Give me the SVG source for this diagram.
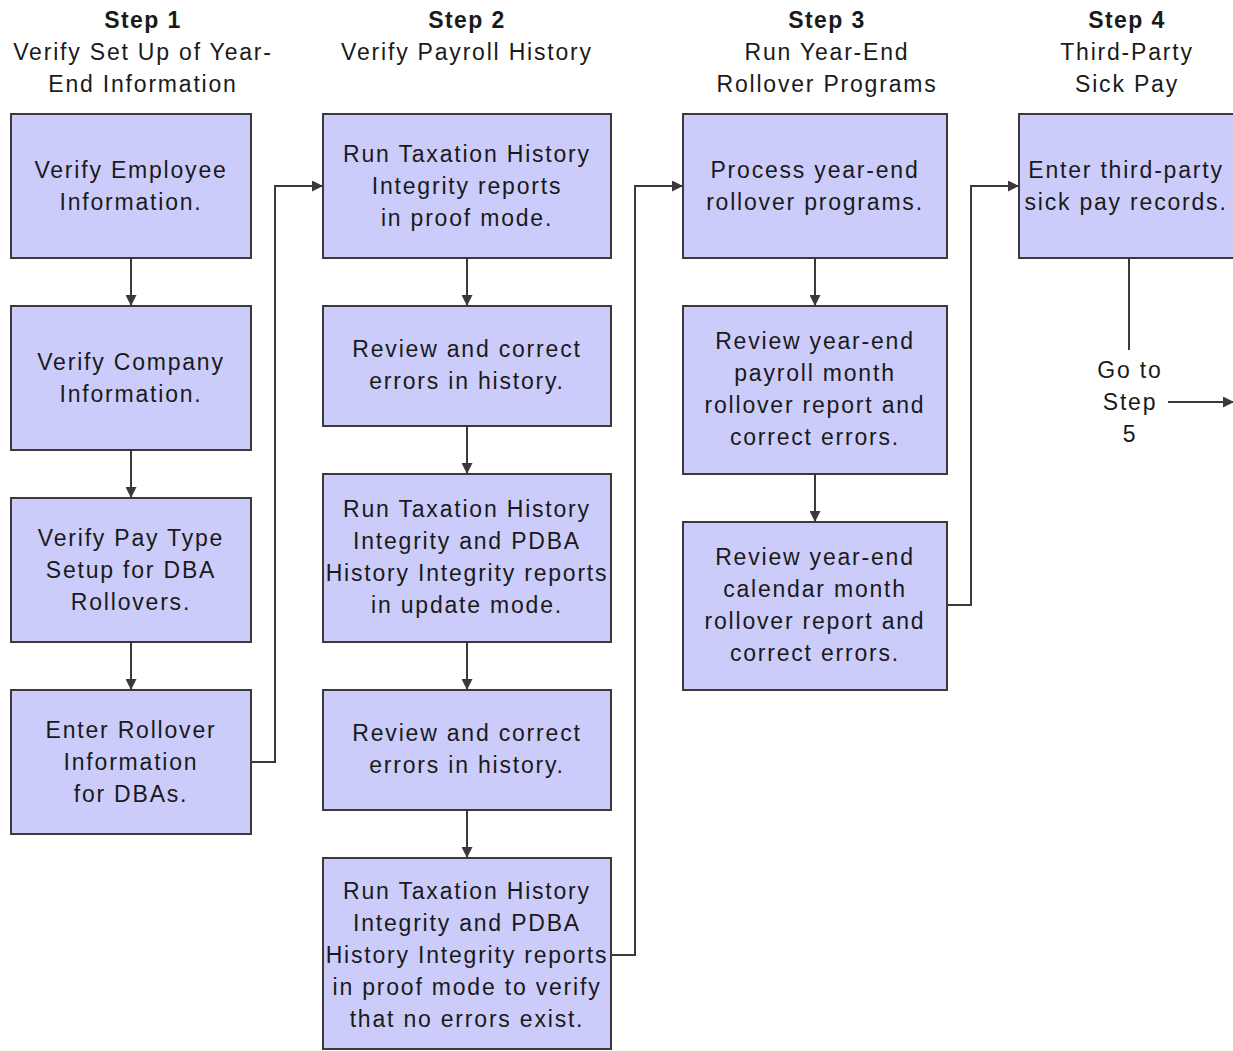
<svg xmlns="http://www.w3.org/2000/svg" width="1233" height="1051" viewBox="0 0 1233 1051">
<defs>
<style>
.box{fill:#ccccfb;stroke:#3a3a3a;stroke-width:2}
.t{font-family:"Liberation Sans",Arial,sans-serif;font-size:23px;letter-spacing:1.8px;fill:#1a1a1a;text-anchor:middle}
.h{font-weight:bold;letter-spacing:1.4px}
.c{fill:none;stroke:#3a3a3a;stroke-width:2}
</style>
<marker id="a" viewBox="0 0 10 10" refX="10" refY="5" markerWidth="12" markerHeight="11" markerUnits="userSpaceOnUse" orient="auto"><path d="M0,0L10,5L0,10z" fill="#3a3a3a"/></marker>
</defs>
<rect width="1233" height="1051" fill="#fff"/>
<g id="headers">
<text class="t h" x="143" y="28">Step 1</text>
<text class="t" x="143" y="60">Verify Set Up of Year-</text>
<text class="t" x="143" y="92">End Information</text>
<text class="t h" x="467" y="28">Step 2</text>
<text class="t" x="467" y="60">Verify Payroll History</text>
<text class="t h" x="827" y="28">Step 3</text>
<text class="t" x="827" y="60">Run Year-End</text>
<text class="t" x="827" y="92">Rollover Programs</text>
<text class="t h" x="1127" y="28">Step 4</text>
<text class="t" x="1127" y="60">Third-Party</text>
<text class="t" x="1127" y="92">Sick Pay</text>
</g>
<g id="connectors">
<path class="c" d="M131,258V306" marker-end="url(#a)"/>
<path class="c" d="M131,450V498" marker-end="url(#a)"/>
<path class="c" d="M131,642V690" marker-end="url(#a)"/>
<path class="c" d="M251,762H275V186H323" marker-end="url(#a)"/>
<path class="c" d="M467,258V306" marker-end="url(#a)"/>
<path class="c" d="M467,426V474" marker-end="url(#a)"/>
<path class="c" d="M467,642V690" marker-end="url(#a)"/>
<path class="c" d="M467,810V858" marker-end="url(#a)"/>
<path class="c" d="M611,955H635V186H683" marker-end="url(#a)"/>
<path class="c" d="M815,258V306" marker-end="url(#a)"/>
<path class="c" d="M815,474V522" marker-end="url(#a)"/>
<path class="c" d="M947,605H971V186H1019" marker-end="url(#a)"/>
<path class="c" d="M1129,258V350"/>
<path class="c" d="M1168,402H1234" marker-end="url(#a)"/>
</g>
<g id="n1"><rect class="box" x="11" y="114" width="240" height="144"/>
<text class="t" x="131" y="178">Verify Employee</text><text class="t" x="131" y="210">Information.</text></g>
<g id="n2"><rect class="box" x="11" y="306" width="240" height="144"/>
<text class="t" x="131" y="370">Verify Company</text><text class="t" x="131" y="402">Information.</text></g>
<g id="n3"><rect class="box" x="11" y="498" width="240" height="144"/>
<text class="t" x="131" y="546">Verify Pay Type</text><text class="t" x="131" y="578">Setup for DBA</text><text class="t" x="131" y="610">Rollovers.</text></g>
<g id="n4"><rect class="box" x="11" y="690" width="240" height="144"/>
<text class="t" x="131" y="738">Enter Rollover</text><text class="t" x="131" y="770">Information</text><text class="t" x="131" y="802">for DBAs.</text></g>
<g id="n5"><rect class="box" x="323" y="114" width="288" height="144"/>
<text class="t" x="467" y="162">Run Taxation History</text><text class="t" x="467" y="194">Integrity reports</text><text class="t" x="467" y="226">in proof mode.</text></g>
<g id="n6"><rect class="box" x="323" y="306" width="288" height="120"/>
<text class="t" x="467" y="357">Review and correct</text><text class="t" x="467" y="389">errors in history.</text></g>
<g id="n7"><rect class="box" x="323" y="474" width="288" height="168"/>
<text class="t" x="467" y="517">Run Taxation History</text><text class="t" x="467" y="549">Integrity and PDBA</text><text class="t" x="467" y="581">History Integrity reports</text><text class="t" x="467" y="613">in update mode.</text></g>
<g id="n8"><rect class="box" x="323" y="690" width="288" height="120"/>
<text class="t" x="467" y="741">Review and correct</text><text class="t" x="467" y="773">errors in history.</text></g>
<g id="n9"><rect class="box" x="323" y="858" width="288" height="191"/>
<text class="t" x="467" y="899">Run Taxation History</text><text class="t" x="467" y="931">Integrity and PDBA</text><text class="t" x="467" y="963">History Integrity reports</text><text class="t" x="467" y="995">in proof mode to verify</text><text class="t" x="467" y="1027">that no errors exist.</text></g>
<g id="n10"><rect class="box" x="683" y="114" width="264" height="144"/>
<text class="t" x="815" y="178">Process year-end</text><text class="t" x="815" y="210">rollover programs.</text></g>
<g id="n11"><rect class="box" x="683" y="306" width="264" height="168"/>
<text class="t" x="815" y="349">Review year-end</text><text class="t" x="815" y="381">payroll month</text><text class="t" x="815" y="413">rollover report and</text><text class="t" x="815" y="445">correct errors.</text></g>
<g id="n12"><rect class="box" x="683" y="522" width="264" height="168"/>
<text class="t" x="815" y="565">Review year-end</text><text class="t" x="815" y="597">calendar month</text><text class="t" x="815" y="629">rollover report and</text><text class="t" x="815" y="661">correct errors.</text></g>
<g id="n13"><rect class="box" x="1019" y="114" width="224" height="144"/>
<text class="t" x="1126" y="178">Enter third-party</text><text class="t" x="1126" y="210">sick pay records.</text></g>
<g id="goto">
<text class="t" x="1130" y="378">Go to</text><text class="t" x="1130" y="410">Step</text><text class="t" x="1130" y="442">5</text></g>
</svg>
